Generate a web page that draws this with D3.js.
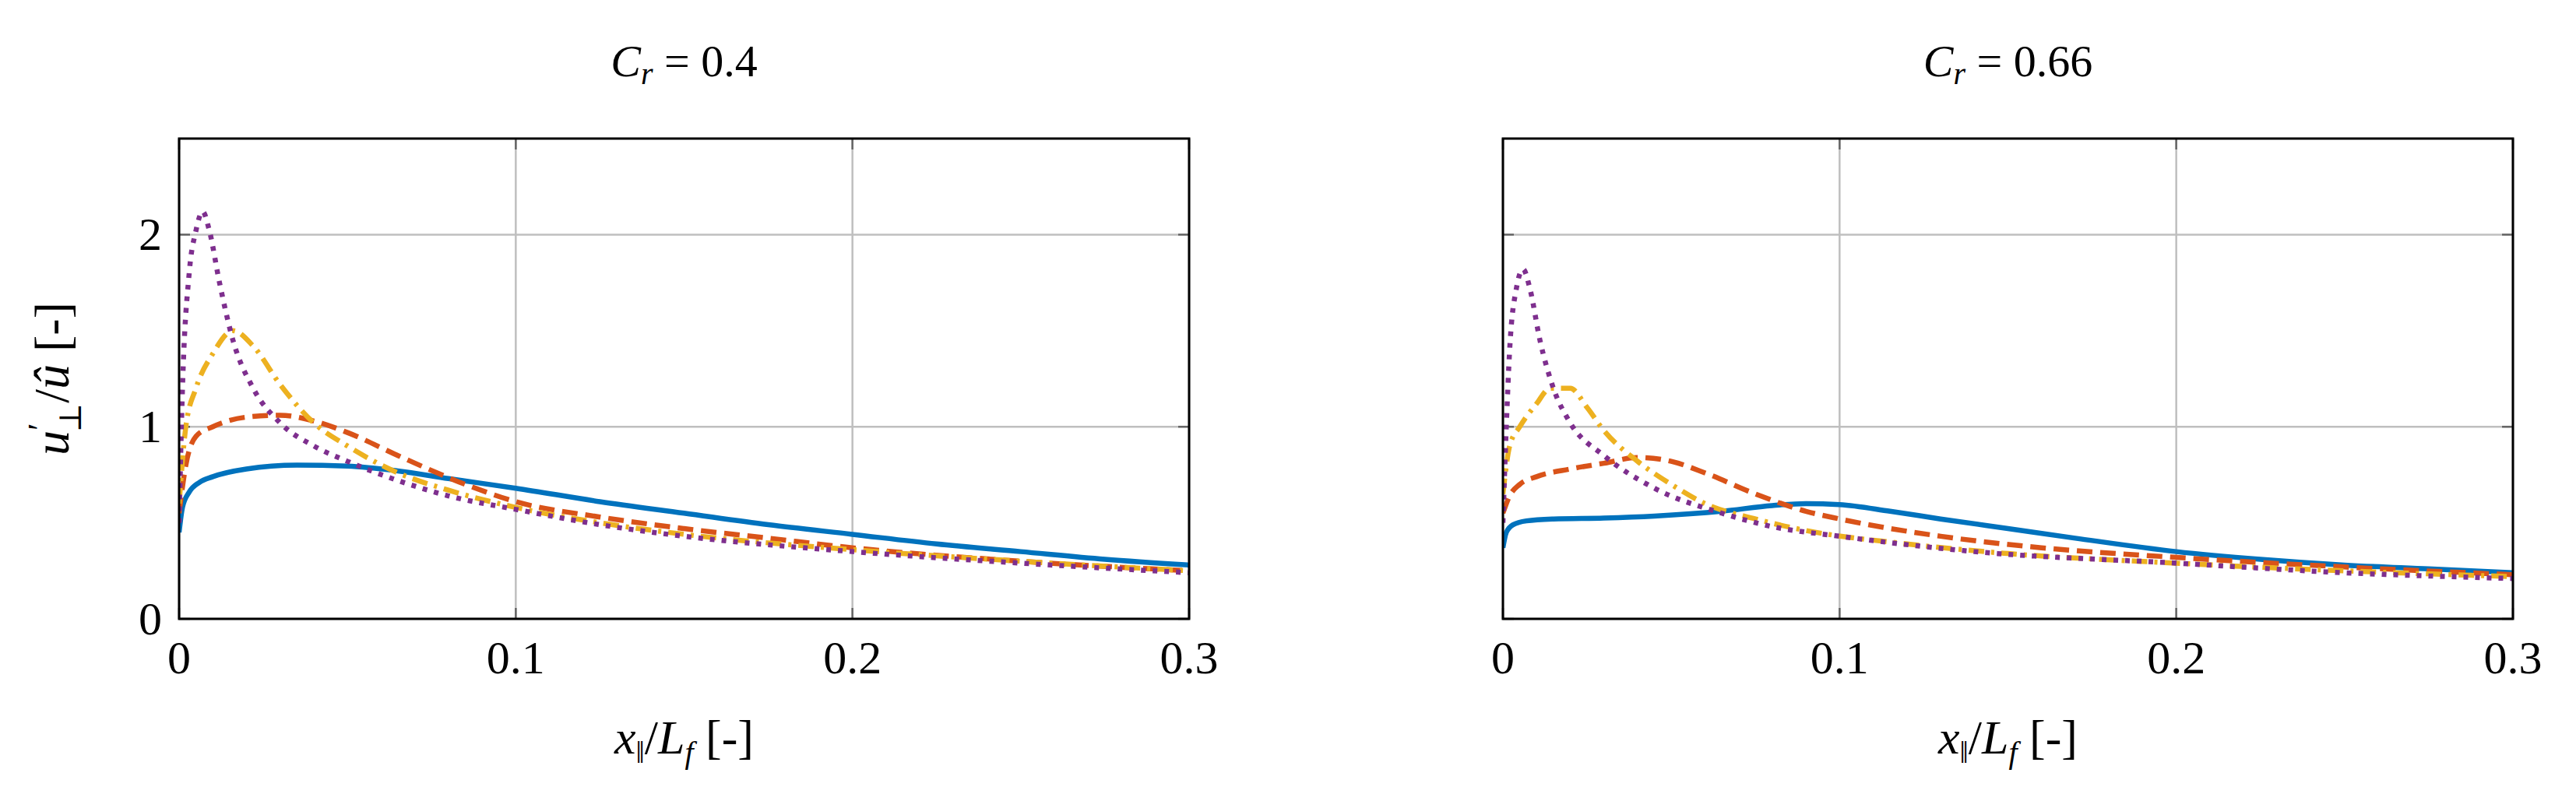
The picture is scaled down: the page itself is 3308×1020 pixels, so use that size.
<!DOCTYPE html>
<html><head><meta charset="utf-8">
<script src="https://cdn.jsdelivr.net/npm/d3@7"></script>
<style>body{margin:0;background:#fff}text{font-family:"Liberation Serif","DejaVu Serif",serif;fill:#000}</style>
</head><body><svg id="c" width="3308" height="1020"></svg>
<script>
const titles = ["0.4", "0.66"];
const xTicks = [0, 0.1, 0.2, 0.3];
const yTicks = [0, 1, 2];
// left panel (C_r = 0.4)
const L_blue_x = [0,0.001,0.003,0.006,0.01,0.02,0.035,0.05,0.065,0.08,0.1,0.125,0.15,0.175,0.2,0.225,0.25,0.275,0.3];
const L_blue_y = [0.45,0.58,0.66,0.71,0.74,0.78,0.80,0.795,0.77,0.73,0.68,0.61,0.55,0.49,0.44,0.39,0.35,0.31,0.28];
const L_red_x = [0,0.002,0.005,0.01,0.02,0.03,0.04,0.05,0.065,0.085,0.1,0.125,0.15,0.175,0.2,0.25,0.3];
const L_red_y = [0.55,0.8,0.95,1.0,1.05,1.06,1.03,0.97,0.85,0.7,0.61,0.53,0.47,0.42,0.37,0.30,0.25];
const L_yel_x = [0,0.002,0.005,0.01,0.016,0.022,0.03,0.04,0.05,0.065,0.08,0.1,0.125,0.15,0.2,0.25,0.3];
const L_yel_y = [0.6,1.0,1.2,1.38,1.5,1.42,1.22,1.02,0.9,0.76,0.67,0.58,0.5,0.44,0.36,0.3,0.25];
const L_pur_x = [0,0.001,0.003,0.005,0.007,0.009,0.012,0.016,0.022,0.03,0.04,0.05,0.065,0.08,0.1,0.125,0.15,0.2,0.25,0.3];
const L_pur_y = [0.5,1.2,1.8,2.02,2.12,2.02,1.75,1.45,1.2,1.02,0.9,0.82,0.72,0.64,0.57,0.49,0.43,0.35,0.29,0.24];
// right panel (C_r = 0.66)
const R_blue_x = [0,0.001,0.003,0.007,0.015,0.03,0.045,0.065,0.08,0.09,0.1,0.115,0.13,0.15,0.17,0.2,0.225,0.25,0.275,0.3];
const R_blue_y = [0.37,0.45,0.49,0.51,0.52,0.525,0.535,0.56,0.59,0.60,0.595,0.56,0.52,0.47,0.42,0.35,0.31,0.28,0.26,0.24];
const R_red_x = [0,0.002,0.005,0.01,0.02,0.03,0.04,0.05,0.06,0.075,0.09,0.1,0.13,0.16,0.2,0.25,0.3];
const R_red_y = [0.55,0.64,0.7,0.74,0.78,0.81,0.84,0.82,0.76,0.65,0.56,0.52,0.43,0.37,0.32,0.27,0.23];
const R_yel_x = [0,0.002,0.005,0.01,0.014,0.02,0.025,0.03,0.04,0.05,0.06,0.075,0.09,0.12,0.15,0.2,0.25,0.3];
const R_yel_y = [0.65,0.9,1.0,1.12,1.2,1.2,1.1,0.98,0.82,0.7,0.6,0.52,0.46,0.39,0.34,0.29,0.25,0.22];
const R_pur_x = [0,0.001,0.002,0.004,0.006,0.008,0.011,0.015,0.02,0.03,0.045,0.065,0.08,0.1,0.14,0.2,0.25,0.3];
const R_pur_y = [0.5,1.0,1.4,1.72,1.82,1.72,1.45,1.2,1.02,0.85,0.68,0.55,0.48,0.43,0.35,0.29,0.24,0.21];

const colors = ["#0072BD","#D95319","#EDB120","#7E2F8E"];
const dashes = [null,"20,10","20,9,4,9","6,9"];
const panels = [
  {x0:230, data:[[L_blue_x,L_blue_y],[L_red_x,L_red_y],[L_yel_x,L_yel_y],[L_pur_x,L_pur_y]]},
  {x0:1930, data:[[R_blue_x,R_blue_y],[R_red_x,R_red_y],[R_yel_x,R_yel_y],[R_pur_x,R_pur_y]]}
];
const W = 1297, yTop = 178, yBot = 795;
const svg = d3.select("#c");
panels.forEach((p,pi)=>{
  const x = d3.scaleLinear().domain([0,0.3]).range([p.x0,p.x0+W]);
  const y = d3.scaleLinear().domain([0,2.5]).range([yBot,yTop]);
  const g = svg.append("g");
  xTicks.forEach(t=>g.append("line").attr("x1",x(t)).attr("x2",x(t)).attr("y1",yTop).attr("y2",yBot).attr("stroke","#bfbfbf").attr("stroke-width",2.5));
  yTicks.forEach(t=>g.append("line").attr("x1",p.x0).attr("x2",p.x0+W).attr("y1",y(t)).attr("y2",y(t)).attr("stroke","#bfbfbf").attr("stroke-width",2.5));
  yTicks.forEach(t=>{g.append("line").attr("x1",p.x0).attr("x2",p.x0+14).attr("y1",y(t)).attr("y2",y(t)).attr("stroke","#666").attr("stroke-width",2.5);
    g.append("line").attr("x1",p.x0+W-14).attr("x2",p.x0+W).attr("y1",y(t)).attr("y2",y(t)).attr("stroke","#666").attr("stroke-width",2.5);});
  xTicks.forEach(t=>{g.append("line").attr("x1",x(t)).attr("x2",x(t)).attr("y1",yBot-14).attr("y2",yBot).attr("stroke","#666").attr("stroke-width",2.5);
    g.append("line").attr("x1",x(t)).attr("x2",x(t)).attr("y1",yTop).attr("y2",yTop+14).attr("stroke","#666").attr("stroke-width",2.5);});
  const line = d3.line().x(d=>x(d[0])).y(d=>y(d[1])).curve(d3.curveMonotoneX);
  const clip = "clip"+pi;
  svg.append("clipPath").attr("id",clip).append("rect").attr("x",p.x0).attr("y",yTop).attr("width",W).attr("height",yBot-yTop);
  p.data.forEach((s,si)=>{
    const pts = s[0].map((v,i)=>[v,s[1][i]]);
    g.append("path").attr("d",line(pts)).attr("fill","none").attr("stroke",colors[si]).attr("stroke-width",6.5)
      .attr("stroke-dasharray",dashes[si]).attr("clip-path",`url(#${clip})`);
  });
  g.append("rect").attr("x",p.x0).attr("y",yTop).attr("width",W).attr("height",yBot-yTop).attr("fill","none").attr("stroke","#000").attr("stroke-width",3);
  xTicks.forEach(t=>g.append("text").attr("x",x(t)).attr("y",yBot+70).attr("text-anchor","middle").attr("font-size",60).text(t===0?"0":String(t)));
  if(pi===0) yTicks.forEach(t=>g.append("text").attr("x",p.x0-22).attr("y",y(t)+20).attr("text-anchor","end").attr("font-size",60).text(t));
  const tt = g.append("text").attr("x",p.x0+W/2).attr("y",98).attr("text-anchor","middle").attr("font-size",58);
  tt.append("tspan").attr("font-style","italic").text("C");
  tt.append("tspan").attr("font-style","italic").attr("font-size",40).attr("dy",10).text("r");
  tt.append("tspan").attr("dy",-10).text(" = "+titles[pi]);
  const xl = g.append("text").attr("x",p.x0+W/2).attr("y",968).attr("text-anchor","middle").attr("font-size",62);
  xl.append("tspan").attr("font-style","italic").text("x");
  xl.append("tspan").attr("font-size",40).attr("dy",12).text("‖");
  xl.append("tspan").attr("dy",-12).text("/");
  xl.append("tspan").attr("font-style","italic").text("L");
  xl.append("tspan").attr("font-style","italic").attr("font-size",40).attr("dy",12).text("f");
  xl.append("tspan").attr("dy",-12).text("  [-]");
  if(pi===0){
    const yl = g.append("text").attr("transform",`translate(88,${(yTop+yBot)/2}) rotate(-90)`).attr("text-anchor","middle").attr("font-size",64);
    yl.append("tspan").attr("font-style","italic").text("u");
    yl.append("tspan").attr("font-size",44).attr("dy",-22).text("′");
    yl.append("tspan").attr("font-size",40).attr("dx",-12).attr("dy",38).text("⊥");
    yl.append("tspan").attr("dy",-16).text("/");
    yl.append("tspan").attr("font-style","italic").text("û");
    yl.append("tspan").text(" [-]");
  }
});
</script></body></html>
